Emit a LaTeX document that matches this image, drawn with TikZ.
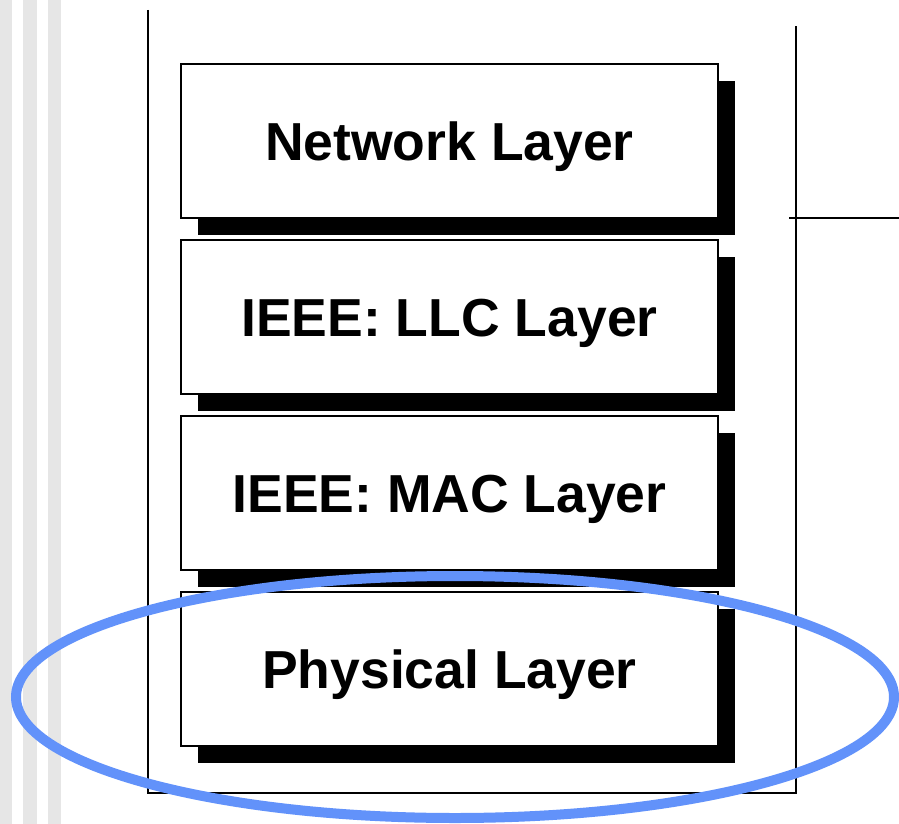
\documentclass[tikz,border=0pt]{standalone}
\usepackage{fontspec}
\setmainfont{Liberation Sans}
\usetikzlibrary{shadows}
\definecolor{ringblue}{RGB}{98,146,250}
\definecolor{stripegray}{RGB}{230,230,230}
\tikzset{
  layerbox/.style={draw, line width=1.5pt, fill=white, minimum width=537pt, minimum height=154pt,
    inner sep=0pt, text height=38.5pt, text depth=0pt, font=\fontsize{53.5}{60}\selectfont\bfseries,
    drop shadow={shadow xshift=17pt, shadow yshift=-17pt, fill=black, opacity=1}},
  frameline/.style={line width=1.6pt}
}
\begin{document}
\begin{tikzpicture}[x=1pt, y=-1pt, line join=miter]
\useasboundingbox (0,0) rectangle (899,824);
% background stripes
\fill[stripegray] (0,0) rectangle (12,824);
\fill[stripegray] (23,0) rectangle (37,824);
\fill[stripegray] (48,0) rectangle (61,824);
% frame
\draw[frameline] (148,10) -- (148,793) -- (796,793) -- (796,26);
\draw[frameline] (789,218) -- (899,218);
% layers
\node[layerbox] (net) at (449.5,141) {Network Layer};
\node[layerbox] (llc) at (449.5,317) {IEEE: LLC Layer};
\node[layerbox] (mac) at (449.5,493) {IEEE: MAC Layer};
\node[layerbox] (phy) at (449.5,669) {Physical Layer};
% highlight
\draw[ringblue, line width=10pt] (455,697) ellipse [x radius=439, y radius=121];
\end{tikzpicture}
\end{document}
